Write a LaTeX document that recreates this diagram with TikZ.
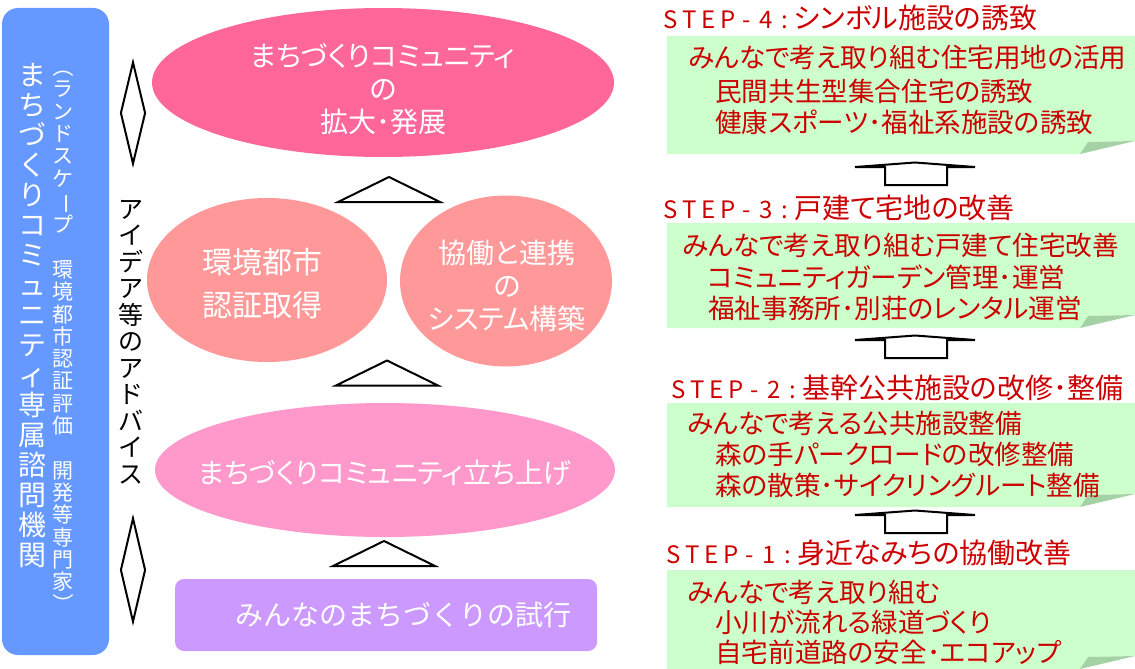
\documentclass[tikz,border=0pt]{standalone}
\usepackage{fontspec}
\newfontfamily\jp[RawFeature=+palt]{Noto Sans CJK JP}
\newfontfamily\jpm{Noto Sans CJK JP}
\usetikzlibrary{shapes.geometric}
\definecolor{advblue}{HTML}{6699FF}
\definecolor{pinkA}{HTML}{FF6699}
\definecolor{salmon}{HTML}{FF9999}
\definecolor{pinkB}{HTML}{FF99CC}
\definecolor{lilac}{HTML}{CC99FF}
\definecolor{mint}{HTML}{CCFFCC}
\definecolor{foldgreen}{HTML}{A5D2A5}
\definecolor{stepred}{HTML}{CC0000}
\newcommand\stc[1]{\makebox[19pt][c]{#1}}
\newcommand\stephead[1]{{\fontsize{24}{28}\selectfont\stc{S}\stc{T}\stc{E}\stc{P}\stc{-}\stc{#1}\stc{:}}}
\newcommand\fstrut{\rule{0pt}{0.88em}}
\newcommand\lstrut{\rule[-0.12em]{0pt}{0.12em}}
\newcommand\vlong{\rotatebox[origin=c]{-90}{ー}}
\newcommand\vopen{\rotatebox[origin=c]{-90}{（}}
\newcommand\vclose{\rotatebox[origin=c]{-90}{）}}
\newcommand\greenbox[2]{%
  \fill[mint] (667,#1) -- (1135,#1) -- (1135,#2-13) -- (1088,#2-12) -- (1080,#2) -- (667,#2) -- cycle;
  \fill[foldgreen] (1080,#2) -- (1088,#2-12) -- (1135,#2-13) -- cycle;}
\tikzset{
  bubble/.style={ellipse, inner sep=0pt},
  bubbletext/.style={inner sep=0pt, text=white, align=center, font=\jp\fontsize{28}{33}\selectfont},
  marker/.style={diamond, draw=black, line width=2pt, fill=white, inner sep=0pt, minimum width=25pt},
  steptitle/.style={anchor=west, inner sep=0pt, text=stepred, font=\jp\fontsize{28}{30}\selectfont, text height=24.6pt, text depth=3.4pt},
  steptext/.style={anchor=west, inner sep=0pt, text=stepred, font=\jp\fontsize{26.6}{30}\selectfont, text height=23.4pt, text depth=3.2pt},
  vtext/.style={inner sep=0pt, align=center, anchor=north},
  uptri/.pic={\draw[line width=2pt, fill=white] (-51,12.5) -- (0,-12.5) -- (51,12.5) -- cycle;},
  blockup/.pic={\draw[line width=2pt, fill=white] (-30,9) -- (-30,-9) -- (-60,-9) -- (0,-13.5) -- (60,-9) -- (32,-9) -- (32,9) -- cycle;},
}
\begin{document}
\begin{tikzpicture}[x=1pt,y=-1pt]
\useasboundingbox (0,0) rectangle (1135,669);
% advisory body
\node[fill=advblue, rounded corners=16pt, minimum width=107pt, minimum height=647pt, inner sep=0pt] (adv) at (55.5,331.5) {};
\node[vtext, text=white, font=\jpm\fontsize{28}{30}\selectfont] (advname) at (32,61)
 {\fstrut ま\\ち\\づ\\く\\り\\コ\\ミ\\ュ\\ニ\\テ\\ィ\\専\\属\\諮\\問\\機\\関\lstrut};
\node[vtext, text=white, font=\jpm\fontsize{21}{22.3}\selectfont] (advmembers) at (63,56)
 {\fstrut \vopen\\ラ\\ン\\ド\\ス\\ケ\\\vlong\\プ\\　\\環\\境\\都\\市\\認\\証\\評\\価\\　\\開\\発\\等\\専\\門\\家\\\vclose\lstrut};
% advice label and markers
\node[marker, minimum height=102pt] (dtop) at (133,113) {};
\node[marker, minimum height=104pt] (dbot) at (133,570) {};
\node[vtext, text=black, font=\jpm\fontsize{25}{26.5}\selectfont] (advice) at (131,196)
 {\fstrut ア\\イ\\デ\\ア\\等\\の\\ア\\ド\\バ\\イ\\ス\lstrut};
% left stages
\node[bubble, fill=pinkA, minimum width=462pt, minimum height=149pt] (expand) at (383,82.5) {};
\node[bubbletext] (expandtxt) at (383,89) {まちづくりコミュニティ\\の\\拡大･発展};
\node[bubble, fill=salmon, minimum width=240pt, minimum height=164pt] (cert) at (267,280) {};
\node[bubbletext, font=\jp\fontsize{30}{43}\selectfont] (certtxt) at (262,284) {環境都市\\認証取得};
\node[bubble, fill=salmon, minimum width=212pt, minimum height=171pt] (system) at (506,281) {};
\node[bubbletext] (systemtxt) at (507,286) {協働と連携\\の\\システム構築};
\node[bubble, fill=pinkB, minimum width=460pt, minimum height=134pt] (launch) at (385,470) {};
\node[bubbletext] (launchtxt) at (385,473) {まちづくりコミュニティ立ち上げ};
\node[fill=lilac, rounded corners=9pt, minimum width=422pt, minimum height=72pt, inner sep=0pt, text=white, font=\jpm\fontsize{28}{30}\selectfont] (trial) at (386,615)
 {\hspace*{34pt}みんなのまちづくりの試行};
\pic at (384,553.5) {uptri};
\pic at (387,373) {uptri};
\pic at (389,189.5) {uptri};
% right steps
\greenbox{36}{154}
\greenbox{223}{328}
\greenbox{403}{507}
\greenbox{570}{669}
\node[steptitle] (s4) at (661,18) {\stephead{4}シンボル施設の誘致};
\node[steptext] (s4a) at (688,57) {みんなで考え取り組む住宅用地の活用};
\node[steptext] (s4b) at (715,91) {民間共生型集合住宅の誘致};
\node[steptext] (s4c) at (715,122) {健康スポーツ･福祉系施設の誘致};
\pic at (915,176) {blockup};
\node[steptitle] (s3) at (661,208) {\stephead{3}戸建て宅地の改善};
\node[steptext] (s3a) at (682,245) {みんなで考え取り組む戸建て住宅改善};
\node[steptext] (s3b) at (708,277) {コミュニティガーデン管理･運営};
\node[steptext] (s3c) at (708,308) {福祉事務所･別荘のレンタル運営};
\pic at (915,349) {blockup};
\node[steptitle] (s2) at (669,388) {\stephead{2}基幹公共施設の改修･整備};
\node[steptext] (s2a) at (687,423) {みんなで考える公共施設整備};
\node[steptext] (s2b) at (715,454) {森の手パークロードの改修整備};
\node[steptext] (s2c) at (715,485) {森の散策･サイクリングルート整備};
\pic at (915,524) {blockup};
\node[steptitle] (s1) at (664,553) {\stephead{1}身近なみちの協働改善};
\node[steptext] (s1a) at (687,592) {みんなで考え取り組む};
\node[steptext] (s1b) at (715,622) {小川が流れる緑道づくり};
\node[steptext] (s1c) at (715,652) {自宅前道路の安全･エコアップ};
\end{tikzpicture}
\end{document}
